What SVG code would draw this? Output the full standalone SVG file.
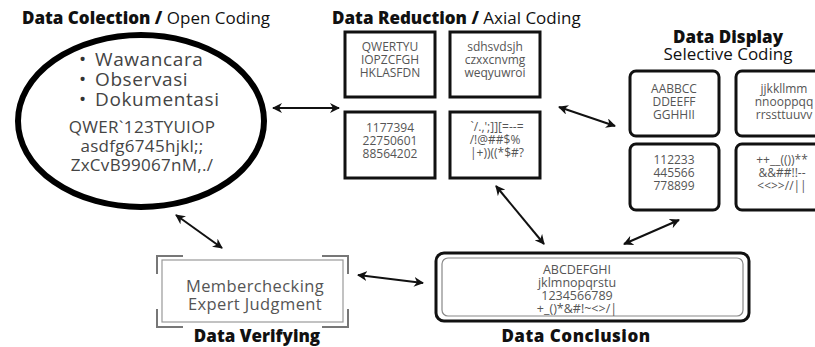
<svg xmlns="http://www.w3.org/2000/svg" width="815" height="347" viewBox="0 0 815 347">
<style>
text{font-family:"Open Sans","Liberation Sans",sans-serif;}
.title{font-size:17px;fill:#111;}
.b{font-weight:800;}
.bul{font-size:19px;fill:#444;letter-spacing:0.6px;}
.dot{fill:#333;letter-spacing:0;}
.code{font-size:17px;fill:#444;text-anchor:middle;letter-spacing:0.3px;}
.bx{font-size:12px;fill:#555;text-anchor:middle;}
.cbx{font-size:12.5px;fill:#555;text-anchor:middle;}
.sbx{font-size:12px;fill:#555;text-anchor:middle;}
.ver{font-size:16.5px;fill:#555;text-anchor:middle;letter-spacing:0.4px;}
.sq{fill:#fff;stroke:#111;stroke-width:3;}
.rd{fill:#fff;stroke:#111;stroke-width:3;}
.conn line{stroke:#111;stroke-width:2;marker-start:url(#ah);marker-end:url(#ah);}
</style>
<defs>
<marker id="ah" viewBox="0 0 10 10" refX="9" refY="5" markerWidth="5" markerHeight="5" markerUnits="strokeWidth" orient="auto-start-reverse">
<path d="M0,0 L10,5 L0,10 L3,5 z" fill="#111"/>
</marker>
</defs>
<rect width="815" height="347" fill="#fff"/>

<g id="collection">
<text class="title" x="146" y="24" text-anchor="middle"><tspan class="b">Data Colection /</tspan> Open Coding</text>
<ellipse cx="141" cy="121" rx="123" ry="86" fill="#fff" stroke="#000" stroke-width="6"/>
<text class="bul" x="79" y="66"><tspan class="dot">•</tspan><tspan x="95">Wawancara</tspan></text>
<text class="bul" x="79" y="86"><tspan class="dot">•</tspan><tspan x="95">Observasi</tspan></text>
<text class="bul" x="79" y="106"><tspan class="dot">•</tspan><tspan x="95">Dokumentasi</tspan></text>
<text class="code" x="142" y="133">QWER`123TYUIOP</text>
<text class="code" x="142" y="152">asdfg6745hjkl;;</text>
<text class="code" x="142" y="171">ZxCvB99067nM,./</text>
</g>

<g id="reduction">
<text class="title" x="332" y="24"><tspan class="b">Data Reduction /</tspan> Axial Coding</text>
<rect class="sq" x="345" y="32" width="90" height="65"/>
<rect class="sq" x="450" y="32" width="90" height="65"/>
<rect class="sq" x="345" y="112" width="90" height="66"/>
<rect class="sq" x="450" y="112" width="90" height="66"/>
<text class="bx" x="390" y="51">QWERTYU</text>
<text class="bx" x="390" y="64">IOPZCFGH</text>
<text class="bx" x="390" y="77">HKLASFDN</text>
<text class="bx" x="495" y="51">sdhsvdsjh</text>
<text class="bx" x="495" y="64">czxxcnvmg</text>
<text class="bx" x="495" y="77">weqyuwroi</text>
<text class="bx" x="390" y="132">1177394</text>
<text class="bx" x="390" y="145">22750601</text>
<text class="bx" x="390" y="158">88564202</text>
<text class="sbx" x="497" y="131">`/.,';]][=--=</text>
<text class="sbx" x="495" y="144">/!@##$%</text>
<text class="sbx" x="497" y="157">|+))((*$#?</text>
</g>

<g id="display">
<text class="title b" x="728" y="43" text-anchor="middle" font-size="16.5">Data Display</text>
<text class="title" x="728" y="60" text-anchor="middle">Selective Coding</text>
<rect class="rd" x="630" y="71" width="89" height="65" rx="6"/>
<rect class="rd" x="736" y="71" width="89" height="65" rx="6"/>
<rect class="rd" x="630" y="144" width="89" height="66" rx="6"/>
<rect class="rd" x="736" y="144" width="89" height="66" rx="6"/>
<text class="sbx" x="674" y="93">AABBCC</text>
<text class="sbx" x="674" y="106">DDEEFF</text>
<text class="sbx" x="674" y="119">GGHHII</text>
<text class="sbx" x="784" y="93">jjkkllmm</text>
<text class="sbx" x="784" y="106">nnooppqq</text>
<text class="sbx" x="784" y="119">rrssttuuvv</text>
<text class="sbx" x="674" y="164">112233</text>
<text class="sbx" x="674" y="177">445566</text>
<text class="sbx" x="674" y="190">778899</text>
<text class="sbx" x="782" y="164">++__(())**</text>
<text class="sbx" x="782" y="177">&amp;&amp;##!!--</text>
<text class="sbx" x="782" y="190">&lt;&lt;&gt;&gt;//||</text>
</g>

<g id="verifying">
<rect x="162" y="260" width="181" height="62" fill="none" stroke="#999" stroke-width="1.2"/>
<path d="M157,274 V256 H183 M322,256 H348 V274 M348,309 V327 H322 M183,327 H157 V309" fill="none" stroke="#777" stroke-width="2"/>
<text class="ver" x="255" y="292">Memberchecking</text>
<text class="ver" x="255" y="310">Expert Judgment</text>
<text class="title b" x="257" y="342" text-anchor="middle" font-size="18">Data Verifying</text>
</g>

<g id="conclusion">
<rect x="436" y="253" width="313" height="68" rx="8" fill="#fff" stroke="#111" stroke-width="3"/>
<rect x="442" y="258" width="301" height="58" rx="6" fill="none" stroke="#888" stroke-width="1.2"/>
<text class="cbx" x="577" y="274">ABCDEFGHI</text>
<text class="cbx" x="577" y="287">jklmnopqrstu</text>
<text class="cbx" x="577" y="300">1234566789</text>
<text class="cbx" x="577" y="313">+_()*&amp;#!~&lt;&gt;/|</text>
<text class="title b" x="576" y="342" text-anchor="middle" font-size="20" letter-spacing="0.5">Data Conclusion</text>
</g>

<g id="connectors" class="conn">
<line x1="273" y1="108" x2="339" y2="108"/>
<line x1="559" y1="107" x2="615" y2="126"/>
<line x1="496" y1="186" x2="544" y2="244"/>
<line x1="679" y1="220" x2="624" y2="244"/>
<line x1="358" y1="275" x2="423" y2="283"/>
<line x1="176" y1="215" x2="222" y2="248"/>
</g>
</svg>
